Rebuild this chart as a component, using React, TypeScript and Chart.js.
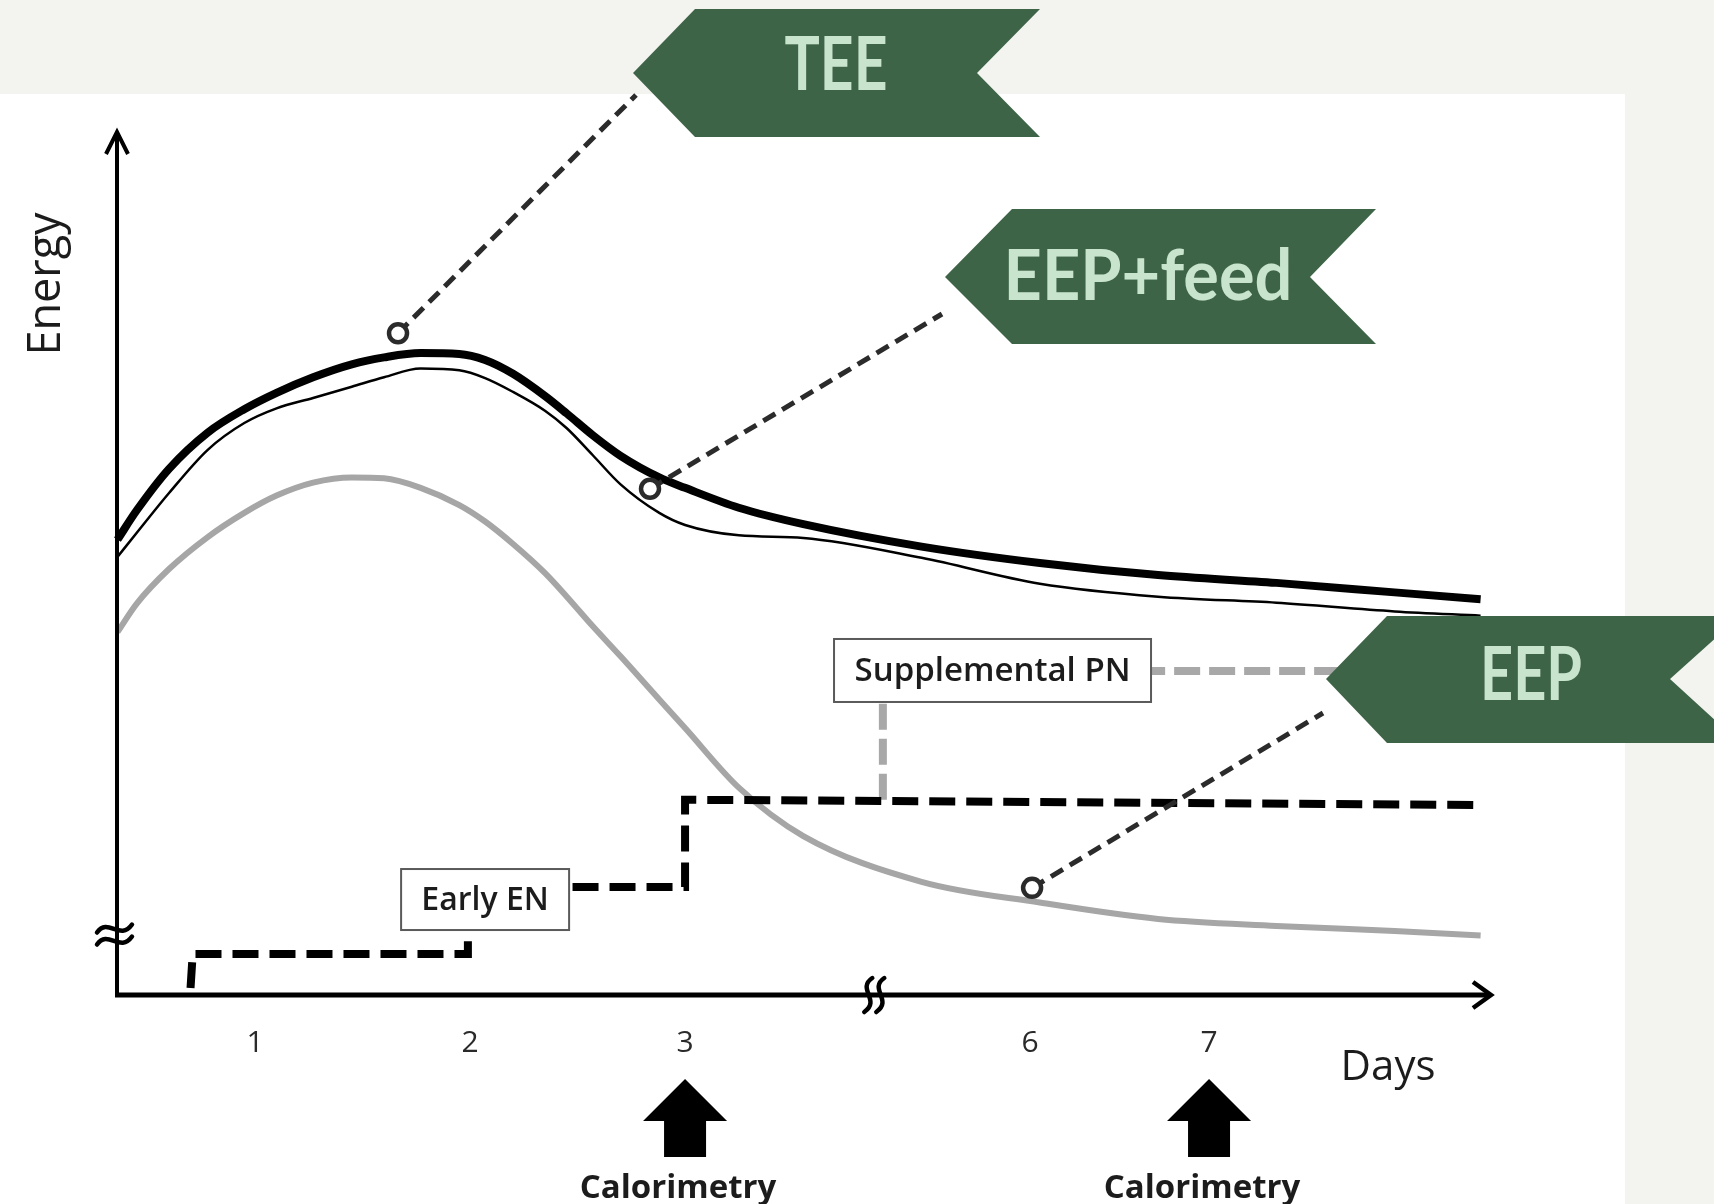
import React, { useEffect, useRef } from "react";
import { Chart, registerables } from "chart.js";

Chart.register(...registerables);

// ---- Data (x = position on the compressed day axis; y = energy, arbitrary units) ----
const samplePos = [0.36, 0.45, 0.6, 0.78, 0.95, 1.1, 1.27, 1.45, 1.6, 1.77, 1.95, 2.07, 2.2, 2.35, 2.45, 2.57, 2.7, 2.88, 3.0, 3.25, 3.55, 4.1, 4.65, 5.2, 5.75, 6.3, 6.7];
const teeValues = [52.7, 56.1, 60.9, 65.1, 67.8, 69.7, 71.5, 73.0, 73.8, 74.3, 74.2, 73.5, 71.9, 69.3, 67.3, 64.8, 62.4, 59.9, 58.7, 56.4, 54.5, 51.9, 50.0, 48.6, 47.7, 46.6, 45.8];
const eepFeedValues = [50.7, 53.5, 58.1, 63.1, 66.2, 67.9, 69.1, 70.4, 71.5, 72.5, 72.3, 71.4, 69.8, 67.6, 65.6, 62.5, 59.1, 55.8, 54.4, 53.2, 52.9, 50.6, 47.6, 46.1, 45.4, 44.4, 43.9];
const eepValues = [42.0, 45.3, 49.3, 53.0, 55.8, 57.8, 59.3, 59.9, 59.8, 58.7, 56.7, 54.8, 52.2, 48.8, 46.1, 42.7, 39.2, 34.2, 30.9, 24.0, 18.4, 13.1, 10.7, 8.8, 8.0, 7.4, 6.9];

const enteralPos = [0.7, 0.71, 1.99, 1.99, 3.0, 3.0, 6.68];
const enteralValues = [0.8, 4.75, 4.75, 12.5, 12.5, 22.6, 22.0];

const pnPos = [3.92, 3.92, 6.33];
const pnValues = [22.6, 37.5, 37.5];

const tickPos = [1, 2, 3, 4.605, 5.437];
const tickLabels = ["1", "2", "3", "6", "7"];
const calorimetryTicks = [2, 4];

const markerPos = [1.665, 2.837, 4.614];
const markerValues = [76.6, 58.6, 12.4];
const bannerLabels = ["TEE", "EEP+feed", "EEP"];

const boxLabels = ["Early EN", "Supplemental PN"];
const boxPos = [2.07, 4.43];
const boxValues = [11.05, 37.56];

const X_MIN = 0.358;
const X_MAX = 6.753;

// ---- Styling / layout ----
const BG = "#f3f4ef";
const GREEN = "#3e6447";
const MINT = "#c8e4cd";
const INK = "#1c1c1c";

const banners = [
  { pts: [[633, 73], [695, 9], [1040, 9], [977, 73], [1040, 137], [695, 137]], cx: 836, base: 90, size: 74, w: 103 },
  { pts: [[945, 277], [1012, 209], [1376, 209], [1310, 277], [1376, 344], [1012, 344]], cx: 1148, base: 300, size: 70, w: 289 },
  { pts: [[1326, 679], [1387, 616], [1740, 616], [1670, 679], [1740, 743], [1387, 743]], cx: 1531, base: 700, size: 74, w: 102 },
];
const leaderEnds = [[636, 95], [942, 314], [1323, 713]];
const boxSizes = [[168, 61], [317, 63]];

function fitText(ctx: any, text: string, cx: number, base: number, font: string, targetW: number) {
  ctx.font = font;
  const w = ctx.measureText(text).width;
  ctx.save();
  ctx.translate(cx, base);
  ctx.scale(targetW / w, 1);
  ctx.textAlign = "center";
  ctx.textBaseline = "alphabetic";
  ctx.fillText(text, 0, 0);
  ctx.restore();
}

const overlay = {
  id: "overlay",
  beforeDraw(chart: any) {
    const ctx = chart.ctx;
    ctx.save();
    ctx.fillStyle = BG;
    ctx.fillRect(0, 0, chart.width, chart.height);
    ctx.fillStyle = "#ffffff";
    ctx.fillRect(0, 94, 1625, chart.height - 94);
    ctx.restore();
  },
  afterDatasetsDraw(chart: any) {
    const ctx = chart.ctx;
    const xs = chart.scales.x;
    const ys = chart.scales.y;
    const left = xs.getPixelForValue(X_MIN);
    const right = xs.getPixelForValue(X_MAX);
    const top = ys.getPixelForValue(100);
    const bottom = ys.getPixelForValue(0);
    ctx.save();
    ctx.strokeStyle = "#000";
    ctx.lineCap = "butt";
    // y axis
    ctx.lineWidth = 4;
    ctx.beginPath();
    ctx.moveTo(left, bottom + 2);
    ctx.lineTo(left, top + 2);
    ctx.stroke();
    ctx.lineJoin = "miter";
    ctx.beginPath();
    ctx.moveTo(left - 11, top + 23);
    ctx.lineTo(left, top + 1);
    ctx.lineTo(left + 11, top + 23);
    ctx.stroke();
    // x axis
    ctx.lineWidth = 5;
    ctx.beginPath();
    ctx.moveTo(left - 2, bottom);
    ctx.lineTo(right - 2, bottom);
    ctx.stroke();
    ctx.lineWidth = 4.5;
    ctx.beginPath();
    ctx.moveTo(right - 19, bottom - 13);
    ctx.lineTo(right - 1, bottom);
    ctx.lineTo(right - 19, bottom + 13);
    ctx.stroke();
    // y break
    ctx.lineWidth = 4.5;
    ctx.lineCap = "round";
    for (const dy of [-6, 6]) {
      const y = ys.getPixelForValue(7) + dy;
      ctx.beginPath();
      ctx.moveTo(left - 20, y + 4);
      ctx.bezierCurveTo(left - 9, y - 12, left + 3, y + 13, left + 15, y - 4);
      ctx.stroke();
    }
    // x break
    const bx = xs.getPixelForValue(3.88);
    for (const dx of [-6, 6]) {
      const x = bx + dx;
      ctx.beginPath();
      ctx.moveTo(x + 4, bottom - 17);
      ctx.bezierCurveTo(x - 12, bottom - 6, x + 13, bottom + 5, x - 4, bottom + 17);
      ctx.stroke();
    }
    ctx.restore();
  },
  afterDraw(chart: any) {
    const ctx = chart.ctx;
    const xs = chart.scales.x;
    const ys = chart.scales.y;
    const bottom = ys.getPixelForValue(0);
    ctx.save();

    // label boxes
    boxLabels.forEach((label, i) => {
      const cx = xs.getPixelForValue(boxPos[i]);
      const cy = ys.getPixelForValue(boxValues[i]);
      const [w, h] = boxSizes[i];
      ctx.fillStyle = "#fff";
      ctx.fillRect(cx - w / 2, cy - h / 2, w, h);
      ctx.strokeStyle = "#5a5a5a";
      ctx.lineWidth = 2;
      ctx.strokeRect(cx - w / 2, cy - h / 2, w, h);
      ctx.fillStyle = INK;
      ctx.textAlign = "center";
      ctx.textBaseline = "middle";
      ctx.font = '600 ' + (i === 0 ? 32 : 33) + 'px "Open Sans"';
      ctx.fillText(label, cx, cy + 1, w - 20);
    });

    // leader lines
    ctx.strokeStyle = "#2b2b2b";
    ctx.lineWidth = 5;
    ctx.setLineDash([14, 8]);
    markerPos.forEach((mx, i) => {
      const px = xs.getPixelForValue(mx);
      const py = ys.getPixelForValue(markerValues[i]);
      ctx.beginPath();
      ctx.moveTo(px, py);
      ctx.lineTo(leaderEnds[i][0], leaderEnds[i][1]);
      ctx.stroke();
    });
    ctx.setLineDash([]);
    // marker circles
    markerPos.forEach((mx, i) => {
      const px = xs.getPixelForValue(mx);
      const py = ys.getPixelForValue(markerValues[i]);
      ctx.beginPath();
      ctx.arc(px, py, 9, 0, Math.PI * 2);
      ctx.fillStyle = "#fff";
      ctx.fill();
      ctx.lineWidth = 4.5;
      ctx.strokeStyle = "#2b2b2b";
      ctx.stroke();
    });

    // banners
    banners.forEach((b, i) => {
      ctx.beginPath();
      b.pts.forEach((p, k) => (k === 0 ? ctx.moveTo(p[0], p[1]) : ctx.lineTo(p[0], p[1])));
      ctx.closePath();
      ctx.fillStyle = GREEN;
      ctx.fill();
      ctx.fillStyle = MINT;
      fitText(ctx, bannerLabels[i], b.cx, b.base, "bold " + b.size + "px Lato", b.w);
    });

    // tick labels
    ctx.fillStyle = "#2a2a2a";
    ctx.font = '30px "Open Sans"';
    ctx.textAlign = "center";
    ctx.textBaseline = "alphabetic";
    tickPos.forEach((t, i) => {
      ctx.fillText(tickLabels[i], xs.getPixelForValue(t), bottom + 57);
    });

    // axis titles
    ctx.fillStyle = INK;
    ctx.font = '42px "Open Sans"';
    ctx.fillText("Days", 1388, 1080);
    ctx.save();
    ctx.translate(60, 284);
    ctx.rotate(-Math.PI / 2);
    ctx.font = '45px "Open Sans"';
    ctx.fillText("Energy", 0, 0);
    ctx.restore();

    // calorimetry arrows
    calorimetryTicks.forEach((ti) => {
      const cx = xs.getPixelForValue(tickPos[ti]);
      ctx.fillStyle = "#000";
      ctx.beginPath();
      ctx.moveTo(cx, 1079);
      ctx.lineTo(cx + 42, 1121);
      ctx.lineTo(cx + 21, 1121);
      ctx.lineTo(cx + 21, 1157);
      ctx.lineTo(cx - 21, 1157);
      ctx.lineTo(cx - 21, 1121);
      ctx.lineTo(cx - 42, 1121);
      ctx.closePath();
      ctx.fill();
      ctx.fillStyle = INK;
      ctx.font = 'bold 33px "Open Sans"';
      ctx.textAlign = "center";
      ctx.fillText("Calorimetry", cx - 7, 1198);
    });

    ctx.restore();
  },
};

export default function App() {
  const ref = useRef<HTMLCanvasElement | null>(null);

  useEffect(() => {
    document.body.style.margin = "0";
    document.body.style.overflow = "hidden";
    const canvas = ref.current;
    if (!canvas) return;
    const pts = (xs: number[], ys: number[]) => xs.map((x, i) => ({ x, y: ys[i] }));
    const chart = new Chart(canvas, {
      type: "line",
      data: {
        datasets: [
          { label: "TEE", data: pts(samplePos, teeValues), borderColor: "#000", borderWidth: 8, cubicInterpolationMode: "monotone", pointRadius: 0, fill: false, clip: false } as any,
          { label: "EEP+feed", data: pts(samplePos, eepFeedValues), borderColor: "#000", borderWidth: 2.5, cubicInterpolationMode: "monotone", pointRadius: 0, fill: false, clip: false } as any,
          { label: "Enteral nutrition", data: pts(enteralPos, enteralValues), borderColor: "#000", borderWidth: 8, borderDash: [26, 11], tension: 0, pointRadius: 0, fill: false, clip: false } as any,
          { label: "Supplemental PN", data: pts(pnPos, pnValues), borderColor: "#a8a8a8", borderWidth: 8, borderDash: [26, 9], tension: 0, pointRadius: 0, fill: false, clip: false } as any,
          { label: "EEP", data: pts(samplePos, eepValues), borderColor: "#a6a6a6", borderWidth: 6, cubicInterpolationMode: "monotone", pointRadius: 0, fill: false, clip: false } as any,
        ],
      },
      options: {
        responsive: false,
        animation: false,
        devicePixelRatio: 1,
        events: [],
        layout: { padding: { left: 117, top: 131, right: 222, bottom: 209 } },
        plugins: { legend: { display: false }, tooltip: { enabled: false }, title: { display: false } },
        scales: {
          x: { type: "linear", min: X_MIN, max: X_MAX, display: false },
          y: { type: "linear", min: 0, max: 100, display: false },
        },
      },
      plugins: [overlay as any],
    });
    return () => chart.destroy();
  }, []);

  return (
    <div style={{ position: "absolute", left: 0, top: 0, width: 1714, height: 1204 }}>
      <canvas ref={ref} width={1714} height={1204} style={{ display: "block", width: 1714, height: 1204 }} />
    </div>
  );
}
